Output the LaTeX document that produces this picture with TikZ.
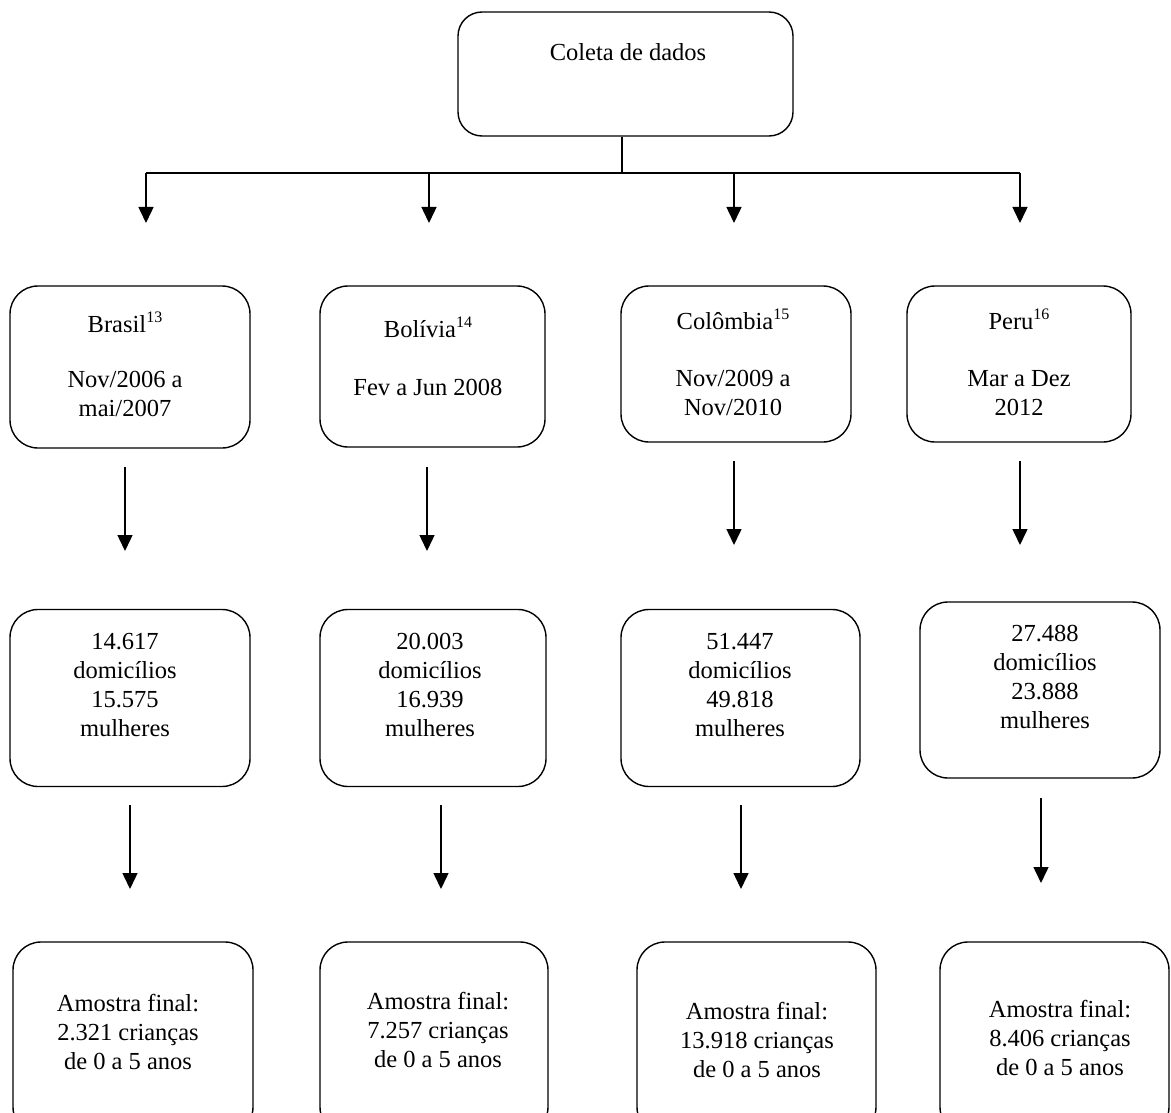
\documentclass[tikz,border=0pt]{standalone}
\usepackage{fontspec}
\setmainfont{Liberation Serif}
\usetikzlibrary{arrows.meta,calc}
\newcommand\mysup[1]{\raisebox{0.42em}{\fontsize{16}{16}\selectfont #1}}
\begin{document}
\begin{tikzpicture}[x=1pt,y=-1pt,
  box/.style={draw, line width=1.4pt, rounded corners=28pt, inner sep=0pt},
  txt/.style={align=center, inner sep=0pt, font=\fontsize{24.5}{29}\selectfont},
  arr/.style={-{Triangle[length=16pt,width=15pt]}, line width=1.5pt},
  ln/.style={line width=1.5pt}]
\useasboundingbox (0,0) rectangle (1171,1113);
\clip (0,0) rectangle (1171,1113);
\fill[white] (0,0) rectangle (1171,1113);

% top
\node[box, rounded corners=24pt, minimum width=335, minimum height=124] (top) at (625.5,74) {};
\node[txt] (ttop) at (628,52) {Coleta de dados};

% row 1
\node[box, minimum width=240, minimum height=162] (b1) at (130,367) {};
\node[box, minimum width=225, minimum height=161] (b2) at (432.5,366.5) {};
\node[box, minimum width=230, minimum height=156] (b3) at (736,364) {};
\node[box, minimum width=224, minimum height=156] (b4) at (1019,364) {};
\node[txt] (t1) at (125,364) {Brasil\mysup{13}\\[26pt]Nov/2006 a\\mai/2007};
\node[txt] (t2) at (428,356) {Bolívia\mysup{14}\\[29pt]Fev a Jun 2008};
\node[txt] (t3) at (733,362) {Colômbia\mysup{15}\\[28pt]Nov/2009 a\\Nov/2010};
\node[txt] (t4) at (1019,362) {Peru\mysup{16}\\[28pt]Mar a Dez\\2012};

% row 2
\node[box, minimum width=240, minimum height=177] (c1) at (130,698) {};
\node[box, minimum width=226, minimum height=177] (c2) at (433,698) {};
\node[box, minimum width=239, minimum height=177] (c3) at (740.5,698) {};
\node[box, minimum width=240, minimum height=176] (c4) at (1040,690) {};
\node[txt] (u1) at (125,685) {14.617\\domicílios\\15.575\\mulheres};
\node[txt] (u2) at (430,685) {20.003\\domicílios\\16.939\\mulheres};
\node[txt] (u3) at (740,685) {51.447\\domicílios\\49.818\\mulheres};
\node[txt] (u4) at (1045,677) {27.488\\domicílios\\23.888\\mulheres};

% row 3
\node[box, minimum width=240, minimum height=193] (d1) at (133,1038.5) {};
\node[box, minimum width=228, minimum height=193] (d2) at (434,1038.5) {};
\node[box, minimum width=239, minimum height=193] (d3) at (756.5,1038.5) {};
\node[box, minimum width=229, minimum height=193] (d4) at (1054.5,1038.5) {};
\node[txt] (v1) at (128,1032) {Amostra final:\\2.321 crianças\\de 0 a 5 anos};
\node[txt] (v2) at (438,1030) {Amostra final:\\7.257 crianças\\de 0 a 5 anos};
\node[txt] (v3) at (757,1040) {Amostra final:\\13.918 crianças\\de 0 a 5 anos};
\node[txt] (v4) at (1060,1038) {Amostra final:\\8.406 crianças\\de 0 a 5 anos};

% connectors: top to row 1
\coordinate (j) at (622,173);
\coordinate (k1) at (146,173);
\coordinate (k2) at (429,173);
\coordinate (k3) at (734,173);
\coordinate (k4) at (1020,173);
\draw[ln] (j |- top.south) -- (j);
\draw[ln] (k1) -- (k4);
\foreach \i in {1,2,3,4} {
  \coordinate (e\i) at ($(k\i)+(0,50)$);
}
\draw[arr] (k1) -- (e1);
\draw[arr] (k2) -- (e2);
\draw[arr] (k3) -- (e3);
\draw[arr] (k4) -- (e4);

% row 1 to row 2
\coordinate (p1) at (125,467); \coordinate (q1) at (125,551);
\coordinate (p2) at (427,467); \coordinate (q2) at (427,551);
\coordinate (p3) at (734,461); \coordinate (q3) at (734,545);
\coordinate (p4) at (1020,461); \coordinate (q4) at (1020,545);
\draw[arr] (p1) -- (q1);
\draw[arr] (p2) -- (q2);
\draw[arr] (p3) -- (q3);
\draw[arr] (p4) -- (q4);

% row 2 to row 3
\coordinate (r1) at (130,805); \coordinate (s1) at (130,889);
\coordinate (r2) at (441,805); \coordinate (s2) at (441,889);
\coordinate (r3) at (741,805); \coordinate (s3) at (741,889);
\coordinate (r4) at (1041,798); \coordinate (s4) at (1041,883);
\draw[arr] (r1) -- (s1);
\draw[arr] (r2) -- (s2);
\draw[arr] (r3) -- (s3);
\draw[arr] (r4) -- (s4);
\end{tikzpicture}
\end{document}
